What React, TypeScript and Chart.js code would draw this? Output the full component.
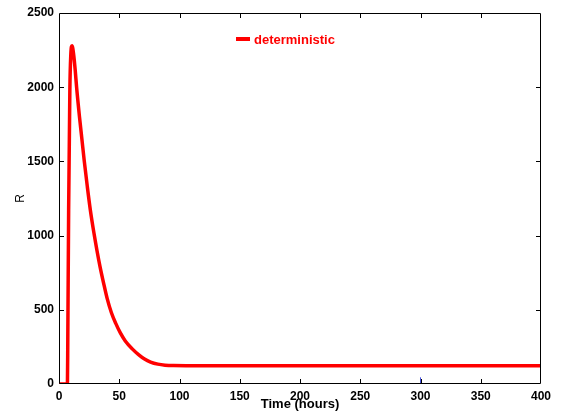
import React, { useEffect, useRef } from "react";
import { Chart, registerables } from "chart.js";

Chart.register(...registerables);

const timeHours = [0, 5, 7, 7.3, 8, 9, 9.8, 10.8, 12, 13.5, 14.6, 17, 19, 21, 23.5, 26, 29, 31.5, 34, 37, 40, 43.5, 47, 50.8, 55, 61, 66, 71, 76, 82, 88, 95, 110, 150, 200, 250, 300, 350, 400];
const rValues = [0, 0, 0, 300, 1170, 1980, 2220, 2280, 2230, 2110, 2000, 1800, 1650, 1500, 1330, 1173, 1017, 900, 793, 680, 575, 480, 410, 346, 290, 235, 198, 168, 148, 134, 127, 124, 123, 123, 123, 123, 123, 123, 123];
const blipTime = [300, 300];
const blipValues = [0, 45];
const xTicks = [0, 50, 100, 150, 200, 250, 300, 350, 400];
const yTicks = [0, 500, 1000, 1500, 2000, 2500];
const seriesLabel = "deterministic";

const FONT = "'Liberation Sans', Arial, Helvetica, sans-serif";

const framePlugin = {
  id: "frame",
  afterDatasetsDraw(chart: any) {
    const { ctx, chartArea: a, scales } = chart;
    ctx.save();
    ctx.strokeStyle = "#000";
    ctx.lineWidth = 1;
    ctx.beginPath();
    ctx.rect(Math.round(a.left) + 0.5, Math.round(a.top) + 0.5, Math.round(a.right - a.left) - 1, Math.round(a.bottom - a.top) - 1);
    ctx.stroke();
    const L = 5;
    ctx.beginPath();
    xTicks.forEach((v) => {
      if (v === xTicks[0] || v === xTicks[xTicks.length - 1]) return;
      const px = Math.round(scales.x.getPixelForValue(v)) + 0.5;
      ctx.moveTo(px, a.bottom);
      ctx.lineTo(px, a.bottom - L);
      ctx.moveTo(px, a.top);
      ctx.lineTo(px, a.top + L);
    });
    yTicks.forEach((v) => {
      if (v === yTicks[0] || v === yTicks[yTicks.length - 1]) return;
      const py = Math.round(scales.y.getPixelForValue(v)) + 0.5;
      ctx.moveTo(a.left, py);
      ctx.lineTo(a.left + L, py);
      ctx.moveTo(a.right, py);
      ctx.lineTo(a.right - L, py);
    });
    ctx.stroke();
    ctx.restore();
  },
  afterDraw(chart: any) {
    const { ctx } = chart;
    ctx.save();
    ctx.strokeStyle = "#ff0000";
    ctx.lineWidth = 4;
    ctx.beginPath();
    ctx.moveTo(236, 39);
    ctx.lineTo(250, 39);
    ctx.stroke();
    ctx.fillStyle = "#ff0000";
    ctx.font = "bold 13px " + FONT;
    ctx.textBaseline = "middle";
    ctx.textAlign = "left";
    ctx.fillText(seriesLabel, 254, 40);
    ctx.restore();
  },
};

export default function App() {
  const ref = useRef<HTMLCanvasElement | null>(null);
  useEffect(() => {
    document.body.style.margin = "0";
    if (!ref.current) return;
    const chart = new Chart(ref.current, {
      type: "line",
      data: {
        datasets: [
          {
            label: seriesLabel,
            data: timeHours.map((t, i) => ({ x: t, y: rValues[i] })),
            borderColor: "#ff0000",
            borderWidth: 3.5,
            pointRadius: 0,
            fill: false,
            cubicInterpolationMode: "monotone",
          },
          {
            label: "stochastic",
            data: blipTime.map((t, i) => ({ x: t, y: blipValues[i] })),
            borderColor: "#4a55e0",
            borderWidth: 1,
            pointRadius: 0,
            fill: false,
          },
        ],
      },
      options: {
        animation: false,
        responsive: false,
        devicePixelRatio: 1,
        layout: { padding: { top: 13, right: 21, left: 0, bottom: 0 } },
        plugins: { legend: { display: false }, tooltip: { enabled: false } },
        scales: {
          x: {
            type: "linear",
            min: 0,
            max: 400,
            grid: { display: false, drawTicks: false },
            border: { display: false },
            afterBuildTicks: (s: any) => {
              s.ticks = xTicks.map((v) => ({ value: v }));
            },
            afterFit: (s: any) => {
              s.height = 28;
            },
            ticks: {
              padding: 5,
              color: "#000",
              font: { family: FONT, size: 12, weight: "bold" },
              maxRotation: 0,
              autoSkip: false,
              callback: (v: any) => String(v),
            },
            title: {
              display: true,
              text: "Time (hours)",
              color: "#000",
              padding: { top: 0, bottom: 0 },
              font: { family: FONT, size: 13, weight: "bold" },
            },
          },
          y: {
            type: "linear",
            min: 0,
            max: 2500,
            grid: { display: false, drawTicks: false },
            border: { display: false },
            afterBuildTicks: (s: any) => {
              s.ticks = yTicks.map((v) => ({ value: v }));
            },
            afterFit: (s: any) => {
              s.width = 59;
            },
            ticks: {
              padding: 5,
              color: "#000",
              font: { family: FONT, size: 12, weight: "bold" },
              autoSkip: false,
              callback: (v: any) => String(v),
            },
            title: {
              display: true,
              text: "R",
              color: "#000",
              padding: { top: 13, bottom: 0 },
              font: { family: FONT, size: 12, weight: "normal" },
            },
          },
        },
      },
      plugins: [framePlugin],
    } as any);
    return () => chart.destroy();
  }, []);
  return (
    <div style={{ position: "fixed", left: 0, top: 0, width: 562, height: 412, background: "#fff" }}>
      <canvas ref={ref} width={562} height={412} />
    </div>
  );
}
